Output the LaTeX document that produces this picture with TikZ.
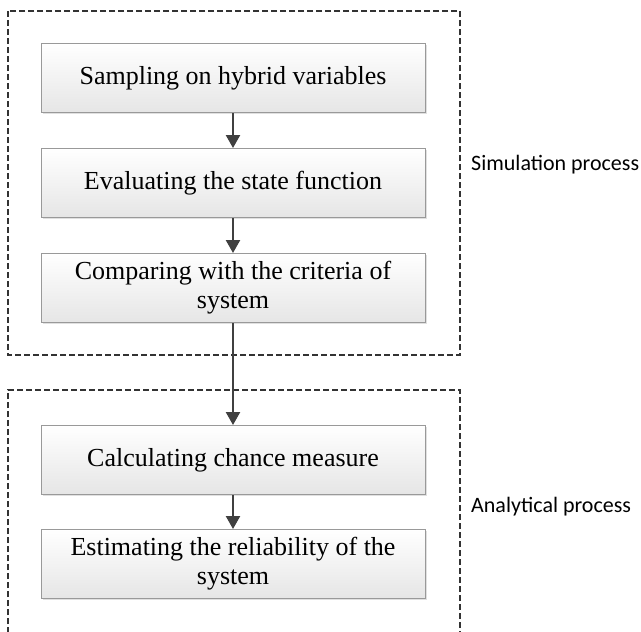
\documentclass[tikz,border=0pt]{standalone}
\usepackage{fontspec}
\setmainfont{Liberation Serif}
\newfontfamily\labelfont{Carlito}
\usetikzlibrary{arrows.meta,shadows}
\begin{document}
\begin{tikzpicture}[x=1pt,y=-1pt,
  procbox/.style={draw=gray!80, line width=1pt, top color=white, bottom color=gray!20,
    minimum width=384pt, minimum height=69pt, align=center, font=\fontsize{26}{29}\selectfont,
    drop shadow={shadow xshift=1.5pt, shadow yshift=-1.5pt, fill=gray!40, opacity=0.6}},
  groupbox/.style={draw=black!80, dash pattern=on 6pt off 3pt, line width=1.6pt},
  flow/.style={draw=black!75, line width=2.4pt, -{Triangle[length=13pt,width=14pt]}},
  grouplabel/.style={anchor=west, font=\labelfont\fontsize{22}{26}\selectfont, inner sep=0pt}
]
\clip (0,0) rectangle (641,632);
\fill[white] (0,0) rectangle (641,632);
\draw[groupbox] (8,11) rectangle (460,355);
\draw[groupbox] (8,660) -- (8,390) -- (460,390) -- (460,660);
\node[procbox] (s1) at (233,78) {Sampling on hybrid variables};
\node[procbox] (s2) at (233,183) {Evaluating the state function};
\node[procbox] (s3) at (233,288) {Comparing with the criteria of\\system};
\node[procbox] (s4) at (233,460) {Calculating chance measure};
\node[procbox] (s5) at (233,564) {Estimating the reliability of the\\system};
\draw[flow] (s1) -- (s2);
\draw[flow] (s2) -- (s3);
\draw[flow] (s3) -- (s4);
\draw[flow] (s4) -- (s5);
\node[grouplabel] (lsim) at (471,165) {Simulation process};
\node[grouplabel] (lana) at (471,507) {Analytical process};
\end{tikzpicture}
\end{document}
